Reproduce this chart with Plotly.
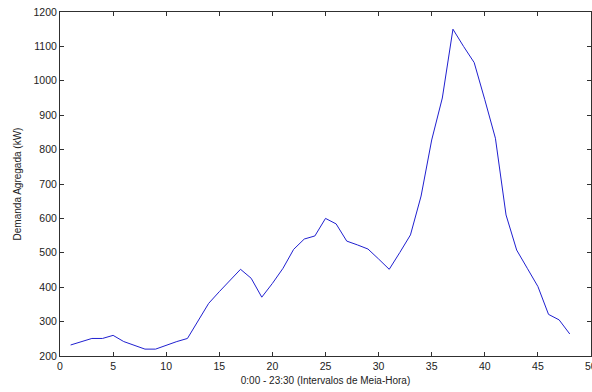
import plotly.graph_objects as go

# Half-hour interval index (1 = 0:00 ... 48 = 23:30)
intervals = list(range(1, 49))
# Aggregated demand in kW for each half-hour interval
demand_kw = [232, 241, 251, 251, 260, 242, 231, 220, 220, 232, 242, 251,
             302, 353, 387, 418, 452, 426, 371, 411, 455, 510, 540, 549,
             600, 584, 534, 523, 511, 482, 452, 501, 552, 665, 828, 950,
             1150, 1100, 1053, 945, 833, 610, 508, 455, 402, 321, 305, 264]

x_ticks = list(range(0, 51, 5))
y_ticks = list(range(200, 1201, 100))

font_family = "Liberation Sans, Arial, sans-serif"
tick_font = dict(family=font_family, size=10.5, color="#222222")

fig = go.Figure()
fig.add_trace(go.Scatter(
    x=intervals, y=demand_kw, mode="lines",
    line=dict(color="#2020d0", width=1),
    showlegend=False, hoverinfo="skip",
))

axis_common = dict(
    showgrid=False, zeroline=False, automargin=False,
    showline=True, linecolor="#303030", linewidth=1,
    mirror="ticks", ticks="inside", ticklen=4, tickcolor="#303030",
    tickfont=tick_font,
)

fig.update_xaxes(
    range=[0, 50], tickvals=x_ticks,
    title=dict(text="0:00 - 23:30 (Intervalos de Meia-Hora)",
               font=dict(family=font_family, size=10, color="#222222"),
               standoff=6),
    **axis_common,
)
fig.update_yaxes(
    range=[200, 1200], tickvals=y_ticks,
    title=dict(text="Demanda Agregada (kW)",
               font=dict(family=font_family, size=10, color="#222222"),
               standoff=10),
    **axis_common,
)

# The last x tick label sits on the page edge and runs off it
fig.add_annotation(
    x=x_ticks[-1], xref="x", y=0, yref="paper",
    text=str(x_ticks[-1]), showarrow=False,
    xanchor="center", yanchor="top", yshift=-2,
    font=tick_font,
)

fig.update_layout(
    width=592, height=392,
    margin=dict(l=60, r=1, t=12, b=36),
    paper_bgcolor="white", plot_bgcolor="white",
)

fig.write_html("out.html")
